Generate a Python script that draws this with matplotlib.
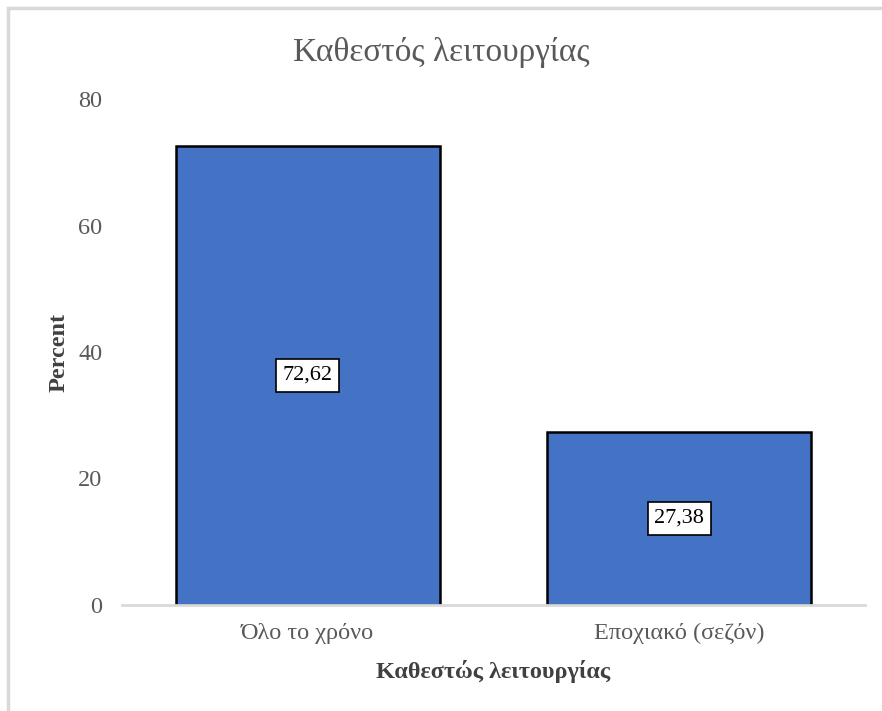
import matplotlib.pyplot as plt
from matplotlib.patches import Rectangle

# κατηγορίες και ποσοστά
categories = ["Όλο το χρόνο", "Εποχιακό (σεζόν)"]
percent = [72.62, 27.38]
value_labels = ["72,62", "27,38"]
yticks = [0, 20, 40, 60, 80]

plt.rcParams['font.family'] = ['Liberation Serif', 'DejaVu Serif']

fig = plt.figure(figsize=(8.82, 7.11), dpi=100)
ax = fig.add_axes([122/882, 1-605/711, (865-122)/882, (605-99)/711])

# εξωτερικό πλαίσιο γραφήματος
fig.patches.append(Rectangle((8/882, -0.1), 1.2, 1.1 - 8/711, transform=fig.transFigure,
                             fill=False, edgecolor='#d9d9d9', linewidth=2.5, zorder=0))

x = range(len(categories))
ax.bar(x, percent, width=0.71, color='#4472c4', edgecolor='black', linewidth=1.8, zorder=2)

for i, v in enumerate(percent):
    ax.text(i, v/2, value_labels[i], ha='center', va='center', fontsize=16, color='black',
            bbox=dict(boxstyle='square,pad=0.3', facecolor='white', edgecolor='black', linewidth=1.2),
            zorder=3)

ax.set_xlim(-0.5, 1.5)
ax.set_ylim(0, 80)
ax.set_yticks(yticks)
ax.set_xticks(list(x))
ax.set_xticklabels(categories)
ax.tick_params(axis='both', length=0, labelsize=17.5, labelcolor='#595959')
ax.tick_params(axis='x', pad=13)
ax.tick_params(axis='y', pad=14)

for s in ['top', 'right', 'left']:
    ax.spines[s].set_visible(False)
ax.spines['bottom'].set_color('#d9d9d9')
ax.spines['bottom'].set_linewidth(2)

ax.set_xlabel("Καθεστώς λειτουργίας", fontsize=17.5, fontweight='bold', color='#404040', labelpad=11)
ax.set_ylabel("Percent", fontsize=17.5, fontweight='bold', color='#404040', labelpad=6)

fig.text(0.5, 1-52/711, "Καθεστός λειτουργίας", ha='center', va='center',
         fontsize=24, color='#595959')

fig.savefig("out.png", dpi=100, facecolor='white')
